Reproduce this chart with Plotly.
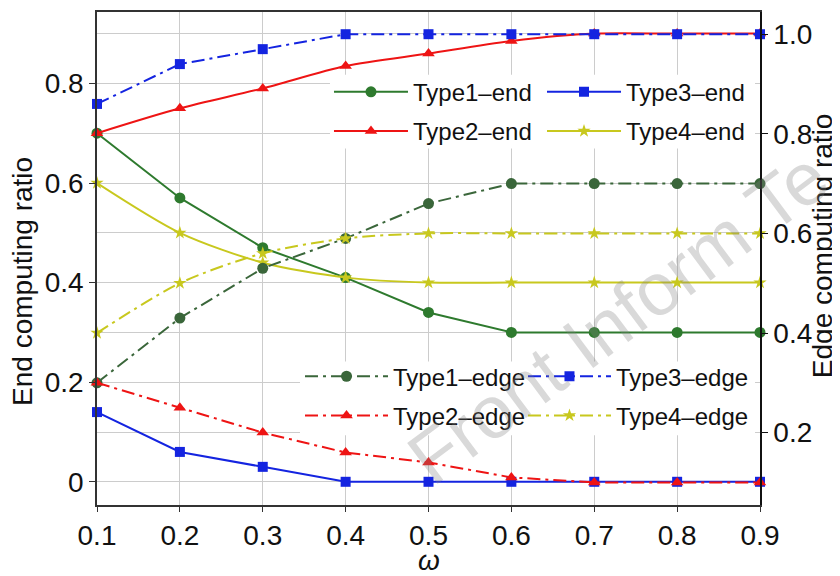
import plotly.graph_objects as go

# ---------------- data ----------------
omega = [0.1, 0.2, 0.3, 0.4, 0.5, 0.6, 0.7, 0.8, 0.9]
omega_labels = ["0.1", "0.2", "0.3", "0.4", "0.5", "0.6", "0.7", "0.8", "0.9"]

type1_end = [0.70, 0.57, 0.47, 0.41, 0.34, 0.30, 0.30, 0.30, 0.30]
type2_end = [0.70, 0.75, 0.79, 0.835, 0.86, 0.885, 0.90, 0.90, 0.90]
type3_end = [0.14, 0.06, 0.03, 0.00, 0.00, 0.00, 0.00, 0.00, 0.00]
type4_end = [0.60, 0.50, 0.44, 0.41, 0.40, 0.40, 0.40, 0.40, 0.40]

type1_edge = [0.30, 0.43, 0.53, 0.59, 0.66, 0.70, 0.70, 0.70, 0.70]
type2_edge = [0.30, 0.25, 0.20, 0.16, 0.14, 0.11, 0.10, 0.10, 0.10]
type3_edge = [0.86, 0.94, 0.97, 1.00, 1.00, 1.00, 1.00, 1.00, 1.00]
type4_edge = [0.40, 0.50, 0.56, 0.59, 0.60, 0.60, 0.60, 0.60, 0.60]

left_ticks = [0, 0.2, 0.4, 0.6, 0.8]
left_tick_labels = ["0", "0.2", "0.4", "0.6", "0.8"]
left_minor = [0.1, 0.3, 0.5, 0.7, 0.9]
right_ticks = [0.2, 0.4, 0.6, 0.8, 1.0]
right_tick_labels = ["0.2", "0.4", "0.6", "0.8", "1.0"]

# ---------------- style ----------------
FONT = "Liberation Sans, Arial, sans-serif"
C1_END = "#2e7a2e"
C1_EDGE = "#3a663a"
C2 = "#ee1414"
C3 = "#1424e0"
C4 = "#c8c81e"
DASHDOT = "13px,5px,3px,5px"
GRID = "#cccccc"
AXIS = "#333333"

fig = go.Figure()

def add(y, name, color, symbol, size, yaxis, dash, legend, group, shape="linear"):
    fig.add_trace(go.Scatter(
        x=omega, y=y, name=name, yaxis=yaxis, mode="lines+markers",
        line=dict(color=color, width=2, dash=dash, shape=shape, smoothing=0.8),
        marker=dict(symbol=symbol, size=size, color=color),
        legend=legend, legendgroup=group, cliponaxis=False,
    ))

# end traces (left axis, solid)
add(type1_end, "Type1\u2013end", C1_END, "circle", 11, "y", "solid", "legend", "g1")
add(type2_end, "Type2\u2013end", C2, "triangle-up", 11, "y", "solid", "legend", "g2", "spline")
add(type3_end, "Type3\u2013end", C3, "square", 10, "y", "solid", "legend2", "g3")
add(type4_end, "Type4\u2013end", C4, "star", 10, "y", "solid", "legend2", "g4", "spline")
# edge traces (right axis, dash-dot)
add(type1_edge, "Type1\u2013edge", C1_EDGE, "circle", 11, "y2", DASHDOT, "legend3", "h1")
add(type2_edge, "Type2\u2013edge", C2, "triangle-up", 11, "y2", DASHDOT, "legend3", "h2")
add(type3_edge, "Type3\u2013edge", C3, "square", 10, "y2", DASHDOT, "legend4", "h3")
add(type4_edge, "Type4\u2013edge", C4, "star", 10, "y2", DASHDOT, "legend4", "h4", "spline")

legend_common = dict(
    bgcolor="rgba(0,0,0,0)", borderwidth=0, orientation="v",
    font=dict(family=FONT, size=24, color="#111111"),
    xanchor="left", yanchor="top", tracegroupgap=5,
)

# The page body has an 8px margin, so the figure is 8px smaller than the window.
fig.update_layout(
    width=832, height=568,
    margin=dict(l=89, r=80, t=2, b=71),
    paper_bgcolor="white", plot_bgcolor="white",
    font=dict(family=FONT, size=28, color="#111111"),
    showlegend=True,
    xaxis=dict(
        range=[0.1, 0.9], tickvals=omega, ticktext=omega_labels,
        showgrid=True, gridcolor=GRID, gridwidth=1,
        showline=True, linecolor=AXIS, linewidth=1.5, mirror=True,
        ticks="outside", ticklen=5, tickcolor=AXIS, zeroline=False,
        tickfont=dict(size=28),
    ),
    yaxis=dict(
        range=[-0.0466, 0.9434], tickvals=left_ticks, ticktext=left_tick_labels,
        showgrid=True, gridcolor=GRID, gridwidth=1,
        minor=dict(tickvals=left_minor, showgrid=True, gridcolor=GRID, gridwidth=1, ticks=""),
        showline=True, linecolor=AXIS, linewidth=1.5,
        ticks="outside", ticklen=6, tickcolor=AXIS, zeroline=False,
        tickfont=dict(size=28),
    ),
    yaxis2=dict(
        overlaying="y", side="right",
        range=[0.0546, 1.0446], tickvals=right_ticks, ticktext=right_tick_labels,
        showgrid=False, showline=True, linecolor="#111111", linewidth=1.5,
        ticks="outside", ticklen=6, tickcolor="#111111", zeroline=False,
        tickfont=dict(size=28),
    ),
    legend=dict(x=0.3499, y=0.883, itemwidth=74, **legend_common),
    legend2=dict(x=0.6712, y=0.883, itemwidth=74, **legend_common),
    legend3=dict(x=0.3062, y=0.306, itemwidth=83, **legend_common),
    legend4=dict(x=0.6425, y=0.306, itemwidth=83, **legend_common),
    shapes=[
        dict(type="rect", xref="paper", yref="paper", x0=0.3514, x1=0.9925,
             y0=0.7232, y1=0.8727, fillcolor="white", line=dict(width=0), layer="above"),
        dict(type="rect", xref="paper", yref="paper", x0=0.3062, x1=0.9925,
             y0=0.1414, y1=0.2909, fillcolor="white", line=dict(width=0), layer="above"),
    ],
    annotations=[
        dict(text="End computing ratio", xref="paper", yref="paper", x=-0.1116, y=0.4525,
             textangle=-90, showarrow=False, xanchor="center", yanchor="middle",
             font=dict(family=FONT, size=28, color="#111111")),
        dict(text="Edge computing ratio", xref="paper", yref="paper", x=1.0935, y=0.527,
             textangle=-90, showarrow=False, xanchor="center", yanchor="middle",
             font=dict(family=FONT, size=28, color="#111111")),
        dict(text="\u03c9", xref="paper", yref="paper", x=0.5, y=-0.1394,
             showarrow=False, xanchor="center", yanchor="bottom", height=24,
             font=dict(family=FONT, size=28, color="#111111", style="italic")),
        dict(text="Front Inform Te", xref="paper", yref="paper", x=0.786, y=0.380,
             textangle=-36.7, showarrow=False, xanchor="center", yanchor="middle",
             font=dict(family=FONT, size=74, color="rgba(130,130,130,0.30)")),
    ],
)

fig.write_html("out.html")
